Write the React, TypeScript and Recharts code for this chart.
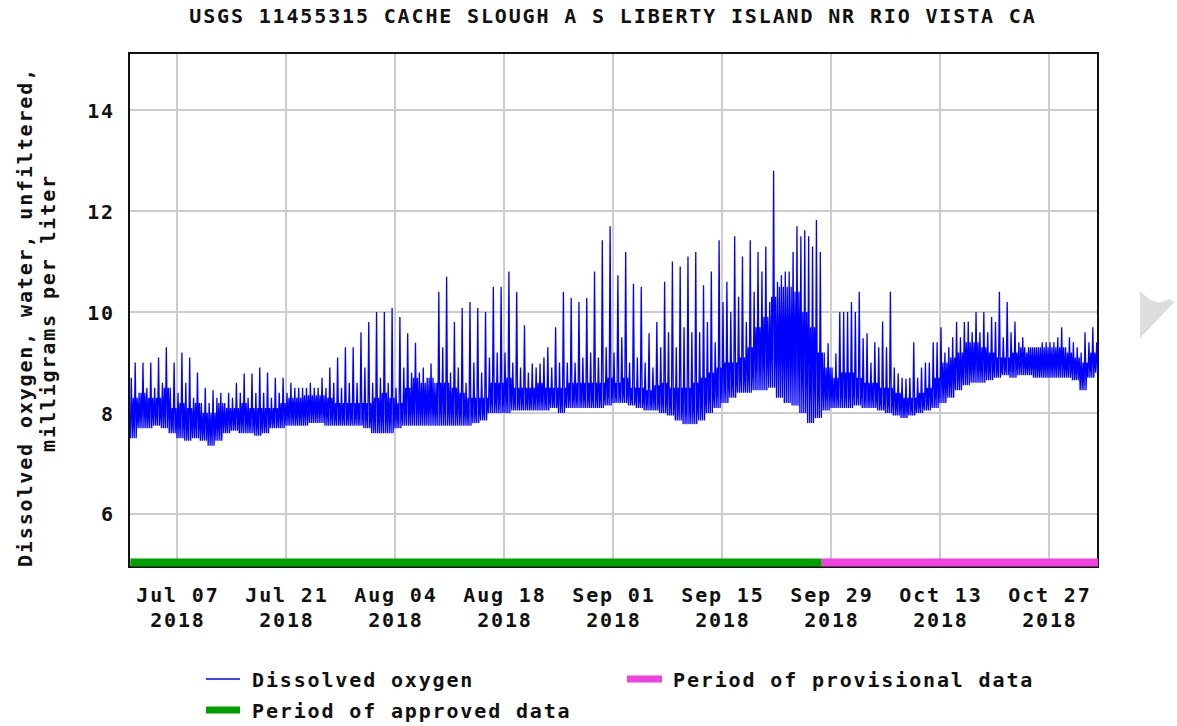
import React from "react";
import {
  LineChart,
  Line,
  XAxis,
  YAxis,
  CartesianGrid,
  ReferenceArea,
} from "recharts";

// day index 0 = Jul 01 2018; one entry per day
const dayLow = [
  7.5, 7.7, 7.7, 7.75, 7.7, 7.6, 7.5, 7.45, 7.5, 7.45,
  7.35, 7.45, 7.6, 7.65, 7.6, 7.6, 7.55, 7.6, 7.7, 7.7,
  7.75, 7.75, 7.75, 7.8, 7.8, 7.75, 7.75, 7.75, 7.75, 7.75,
  7.7, 7.6, 7.6, 7.6, 7.7, 7.75, 7.75, 7.75, 7.75, 7.75,
  7.75, 7.75, 7.75, 7.75, 7.8, 7.85, 8.0, 8.0, 8.0, 8.05,
  8.05, 8.05, 8.05, 8.05, 8.1, 8.0, 8.1, 8.1, 8.1, 8.1,
  8.1, 8.15, 8.2, 8.2, 8.15, 8.1, 8.05, 8.05, 8.0, 7.95,
  7.85, 7.78, 7.78, 7.85, 8.0, 8.1, 8.2, 8.3, 8.4, 8.4,
  8.45, 8.45, 8.5, 8.3, 8.2, 8.15, 8.0, 7.8, 7.9, 8.05,
  8.1, 8.1, 8.1, 8.15, 8.1, 8.1, 8.05, 8.0, 7.95, 7.9,
  7.95, 8.0, 8.05, 8.1, 8.2, 8.3, 8.45, 8.55, 8.6, 8.6,
  8.65, 8.7, 8.75, 8.7, 8.75, 8.75, 8.7, 8.7, 8.7, 8.7,
  8.7, 8.65, 8.45, 8.7, 8.8,
];

// top of the dense daily band
const dayBand = [
  8.3, 8.4, 8.3, 8.3, 8.5, 8.1, 8.2, 8.1, 8.2, 8.0,
  8.0, 8.2, 8.1, 8.1, 8.2, 8.1, 8.1, 8.1, 8.1, 8.2,
  8.3, 8.3, 8.35, 8.35, 8.35, 8.3, 8.2, 8.2, 8.2, 8.2,
  8.2, 8.3, 8.4, 8.3, 8.2, 8.5, 8.7, 8.6, 8.7, 8.6,
  8.6, 8.5, 8.4, 8.3, 8.3, 8.3, 8.6, 8.6, 8.7, 8.5,
  8.5, 8.5, 8.6, 8.5, 8.5, 8.5, 8.6, 8.6, 8.6, 8.6,
  8.6, 8.7, 8.6, 8.7, 8.5, 8.5, 8.45, 8.55, 8.6, 8.5,
  8.5, 8.5, 8.6, 8.7, 8.8, 8.9, 9.0, 9.0, 9.1, 9.3,
  9.7, 9.9, 10.3, 10.5, 10.5, 10.4, 10.0, 9.7, 9.2, 8.9,
  8.7, 8.8, 8.8, 8.7, 8.6, 8.6, 8.5, 8.5, 8.4, 8.3,
  8.3, 8.4, 8.5, 8.7, 9.0, 9.1, 9.2, 9.4, 9.4, 9.3,
  9.2, 9.1, 9.1, 9.2, 9.3, 9.3, 9.3, 9.3, 9.3, 9.3,
  9.2, 9.1, 9.0, 9.2, 9.3,
];

// afternoon spike (daily max)
const dayPeak = [
  9.0, 9.0, 9.0, 9.1, 9.3, 9.0, 9.2, 9.1, 8.8, 8.5,
  8.45, 8.4, 8.4, 8.6, 8.78, 8.78, 8.9, 8.8, 8.7, 8.7,
  8.6, 8.5, 8.5, 8.5, 8.7, 8.9, 9.1, 9.3, 9.3, 9.6,
  9.8, 10.0, 10.0, 10.08, 9.9, 9.58, 9.39, 8.9, 8.98, 10.4,
  10.7, 9.8, 10.08, 10.2, 10.08, 10.0, 10.5, 10.5, 10.8, 10.4,
  9.74, 8.98, 8.98, 9.3, 9.7, 10.4, 10.28, 10.2, 10.28, 10.8,
  11.42, 11.7, 10.73, 11.19, 10.56, 10.5, 9.58, 9.8, 10.6, 11.0,
  10.9, 11.1, 11.19, 10.53, 10.8, 11.42, 10.6, 11.5, 11.1, 11.42,
  11.19, 11.3, 12.8, 10.73, 10.8, 11.7, 11.62, 11.3, 11.19, 9.38,
  9.18, 10.0, 10.2, 10.4, 9.58, 9.4, 9.81, 10.4, 8.78, 8.68,
  9.4, 8.9, 9.0, 9.4, 9.2, 9.5, 9.5, 9.81, 10.0, 10.0,
  9.9, 10.4, 10.2, 9.81, 9.5, 9.3, 9.3, 9.4, 9.4, 9.7,
  9.5, 9.3, 9.6, 9.7, 9.7,
];

// smaller early spike
const dayPeak2 = [
  8.7, 8.4, 8.5, 8.5, 8.6, 8.5, 8.4, 8.6, 8.3, 8.2,
  8.2, 8.3, 8.2, 8.3, 8.4, 8.3, 8.4, 8.4, 8.3, 8.4,
  8.4, 8.5, 8.5, 8.6, 8.5, 8.5, 8.6, 8.5, 8.6, 8.6,
  8.9, 8.6, 8.7, 8.6, 8.5, 8.9, 8.8, 8.8, 8.7, 8.6,
  9.3, 8.8, 8.9, 8.6, 9.0, 8.8, 9.1, 9.2, 9.2, 9.0,
  8.9, 8.8, 8.9, 9.1, 8.9, 9.0, 9.0, 9.0, 9.1, 9.2,
  9.1, 9.3, 9.2, 9.5, 9.0, 9.1, 9.0, 8.9, 9.3, 9.6,
  9.3, 9.7, 9.6, 9.6, 9.8, 9.4, 10.2, 10.0, 10.3, 9.8,
  10.4, 10.8, 10.2, 10.6, 10.8, 11.19, 11.5, 11.5, 11.82, 9.2,
  8.9, 10.0, 10.0, 10.0, 9.48, 9.0, 9.3, 9.3, 8.9, 8.7,
  8.7, 8.7, 9.0, 9.4, 9.7, 9.3, 9.8, 9.8, 9.6, 9.6,
  9.6, 9.8, 9.5, 9.6, 9.4, 9.2, 9.3, 9.4, 9.4, 9.5,
  9.3, 9.4, 9.2, 9.4, 9.4,
];

const tickDays = [6, 20, 34, 48, 62, 76, 90, 104, 118];
const tickLabels = ["Jul 07", "Jul 21", "Aug 04", "Aug 18", "Sep 01", "Sep 15", "Sep 29", "Oct 13", "Oct 27"];
const tickYear = "2018";
const yTicks = [6, 8, 10, 12, 14];

const approvedSpan = [0, 88.8];
const provisionalSpan = [88.8, 124.29];

const X_MIN = -0.17;
const X_MAX = 124.29;
const Y_MIN = 4.95;
const Y_MAX = 15.13;
const BAR_Y = 5.04;

const FONT = "'DejaVu Sans Mono', monospace";
const LS = 1.85;

const series: { t: number; v: number }[] = [];
dayLow.forEach((lo, d) => {
  const seq = [lo, dayPeak2[d], lo, dayBand[d], lo, dayPeak[d], lo, dayBand[d]];
  seq.forEach((v, k) => {
    const t = d + k / 8;
    if (t <= X_MAX) series.push({ t, v });
  });
});

const approvedData = approvedSpan.map((t) => ({ t, v: BAR_Y }));
const provisionalData = provisionalSpan.map((t) => ({ t, v: BAR_Y }));

const textStyle = {
  fontFamily: FONT,
  fontWeight: "bold" as const,
  fontSize: 20,
  letterSpacing: LS,
  fill: "#111",
};

const XTick = ({ x, payload }: any) => {
  const i = tickDays.indexOf(payload.value);
  return (
    <g>
      <text x={x + LS / 2} y={602} textAnchor="middle" {...textStyle}>
        {tickLabels[i]}
      </text>
      <text x={x + LS / 2} y={627} textAnchor="middle" {...textStyle}>
        {tickYear}
      </text>
    </g>
  );
};

const YTick = ({ y, payload }: any) => (
  <text x={115} y={y + 7.5} textAnchor="end" {...textStyle}>
    {payload.value}
  </text>
);

export default function App() {
  return (
    <div style={{ position: "absolute", left: 0, top: 0, width: 1177, height: 726, background: "#fff" }}>
      <LineChart
        width={1177}
        height={726}
        margin={{ top: 53, right: 79, bottom: 129, left: 69 }}
      >
        <CartesianGrid stroke="#cccccc" strokeWidth={2} />
        <XAxis
          type="number"
          dataKey="t"
          domain={[X_MIN, X_MAX]}
          allowDataOverflow
          ticks={tickDays}
          tick={<XTick />}
          tickLine={false}
          axisLine={false}
          height={30}
        />
        <YAxis
          type="number"
          domain={[Y_MIN, Y_MAX]}
          allowDataOverflow
          ticks={yTicks}
          tick={<YTick />}
          tickLine={false}
          axisLine={false}
          width={60}
        />
        <ReferenceArea
          x1={X_MIN}
          x2={X_MAX}
          y1={Y_MIN}
          y2={Y_MAX}
          fill="none"
          stroke="#111"
          strokeWidth={2}
        />
        <Line
          data={series}
          dataKey="v"
          type="linear"
          stroke="#0000ff"
          strokeWidth={1.3}
          dot={false}
          isAnimationActive={false}
        />
        <Line
          data={approvedData}
          dataKey="v"
          stroke="#00a000"
          strokeWidth={8}
          dot={false}
          isAnimationActive={false}
        />
        <Line
          data={provisionalData}
          dataKey="v"
          stroke="#f040e0"
          strokeWidth={8}
          dot={false}
          isAnimationActive={false}
        />
      </LineChart>
      <svg
        width={1177}
        height={726}
        style={{ position: "absolute", left: 0, top: 0, pointerEvents: "none" }}
      >
        <text x={612 + LS / 2} y={23} textAnchor="middle" {...textStyle}>
          USGS 11455315 CACHE SLOUGH A S LIBERTY ISLAND NR RIO VISTA CA
        </text>
        <text transform="translate(32,317) rotate(-90)" textAnchor="middle" {...textStyle}>
          Dissolved oxygen, water, unfiltered,
        </text>
        <text transform="translate(55,313) rotate(-90)" textAnchor="middle" {...textStyle}>
          milligrams per liter
        </text>
        <line x1={206} x2={240} y1={679} y2={679} stroke="#0000ff" strokeWidth={1.5} />
        <text x={252} y={687} {...textStyle}>Dissolved oxygen</text>
        <line x1={206} x2={240} y1={710} y2={710} stroke="#00a000" strokeWidth={7} />
        <text x={252} y={718} {...textStyle}>Period of approved data</text>
        <line x1={627} x2={662} y1={679} y2={679} stroke="#f040e0" strokeWidth={7} />
        <text x={673} y={687} {...textStyle}>Period of provisional data</text>
        <path d="M1140,291 Q1150,302 1160,302.5 L1170,299 L1174.5,302 L1140,338 Z" fill="#dddddd" />
      </svg>
    </div>
  );
}
